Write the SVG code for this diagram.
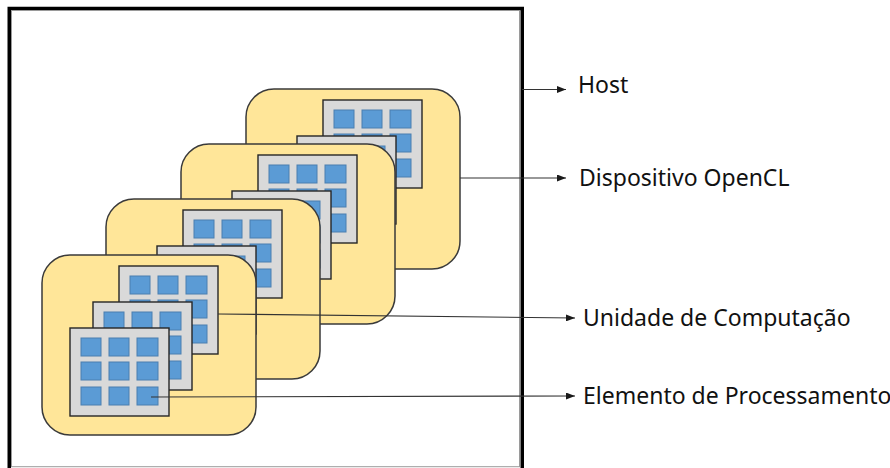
<svg xmlns="http://www.w3.org/2000/svg" xmlns:xlink="http://www.w3.org/1999/xlink" width="890" height="468" viewBox="0 0 890 468">
  <style>
    .host-outer { fill: #ffffff; stroke: #000000; stroke-width: 3.5; }
    .host-inner { fill: none; stroke: #9a9a9a; stroke-width: 1; }
    .device { fill: #ffe699; stroke: #3a3a3a; stroke-width: 1.5; }
    .cu { fill: #d9d9d9; stroke: #262626; stroke-width: 1.4; }
    .pe { fill: #5b9bd5; stroke: #4a7fb0; stroke-width: 1; }
    .link { fill: none; stroke: #333333; stroke-width: 1.2; marker-end: url(#arrow); }
    .label { font-family: "Noto Sans", "Open Sans", sans-serif; font-size: 23px; fill: #111111; }
  </style>
  <defs>
    <marker id="arrow" markerUnits="userSpaceOnUse" markerWidth="9" markerHeight="7" refX="9" refY="3.5" orient="auto">
      <path d="M0,0 L9,3.5 L0,7 z" fill="#1a1a1a"/>
    </marker>
    <!-- compute unit: grey tile holding a 3x3 grid of processing elements -->
    <g id="computeUnit">
      <rect class="cu" x="0" y="0" width="99" height="88"/>
      <rect class="pe" x="11" y="10" width="20" height="18"/>
      <rect class="pe" x="39" y="10" width="20" height="18"/>
      <rect class="pe" x="67" y="10" width="21" height="18"/>
      <rect class="pe" x="11" y="34" width="20" height="18"/>
      <rect class="pe" x="39" y="34" width="20" height="18"/>
      <rect class="pe" x="67" y="34" width="21" height="18"/>
      <rect class="pe" x="11" y="59" width="20" height="18"/>
      <rect class="pe" x="39" y="59" width="20" height="18"/>
      <rect class="pe" x="67" y="59" width="21" height="18"/>
    </g>
    <!-- device: rounded yellow card with three stacked compute units -->
    <g id="deviceCard">
      <rect class="device" x="0" y="0" width="214" height="180" rx="28" ry="28"/>
      <use xlink:href="#computeUnit" x="77" y="11"/>
      <use xlink:href="#computeUnit" x="51" y="47"/>
      <use xlink:href="#computeUnit" x="28" y="73"/>
    </g>
  </defs>

  <g id="host">
    <rect class="host-outer" x="9.25" y="8.5" width="513" height="462"/>
    <rect class="host-inner" x="11.5" y="10.5" width="508" height="456.2"/>
  </g>

  <g id="device-1" transform="translate(246,89)"><use xlink:href="#deviceCard"/></g>
  <g id="device-2" transform="translate(181,144)"><use xlink:href="#deviceCard"/></g>
  <g id="device-3" transform="translate(106,199)"><use xlink:href="#deviceCard"/></g>
  <g id="device-4" transform="translate(42,255)"><use xlink:href="#deviceCard"/></g>

  <g id="connectors">
    <path class="link" d="M522,89.5 H566"/>
    <path class="link" d="M460,178 H566"/>
    <path class="link" d="M218,314 L575,318"/>
    <path class="link" d="M151,397 L575,396"/>
  </g>

  <g id="labels">
    <text class="label" x="578" y="93">Host</text>
    <text class="label" x="579" y="186">Dispositivo OpenCL</text>
    <text class="label" x="583" y="326">Unidade de Computação</text>
    <text class="label" x="583" y="404">Elemento de Processamento</text>
  </g>
</svg>
